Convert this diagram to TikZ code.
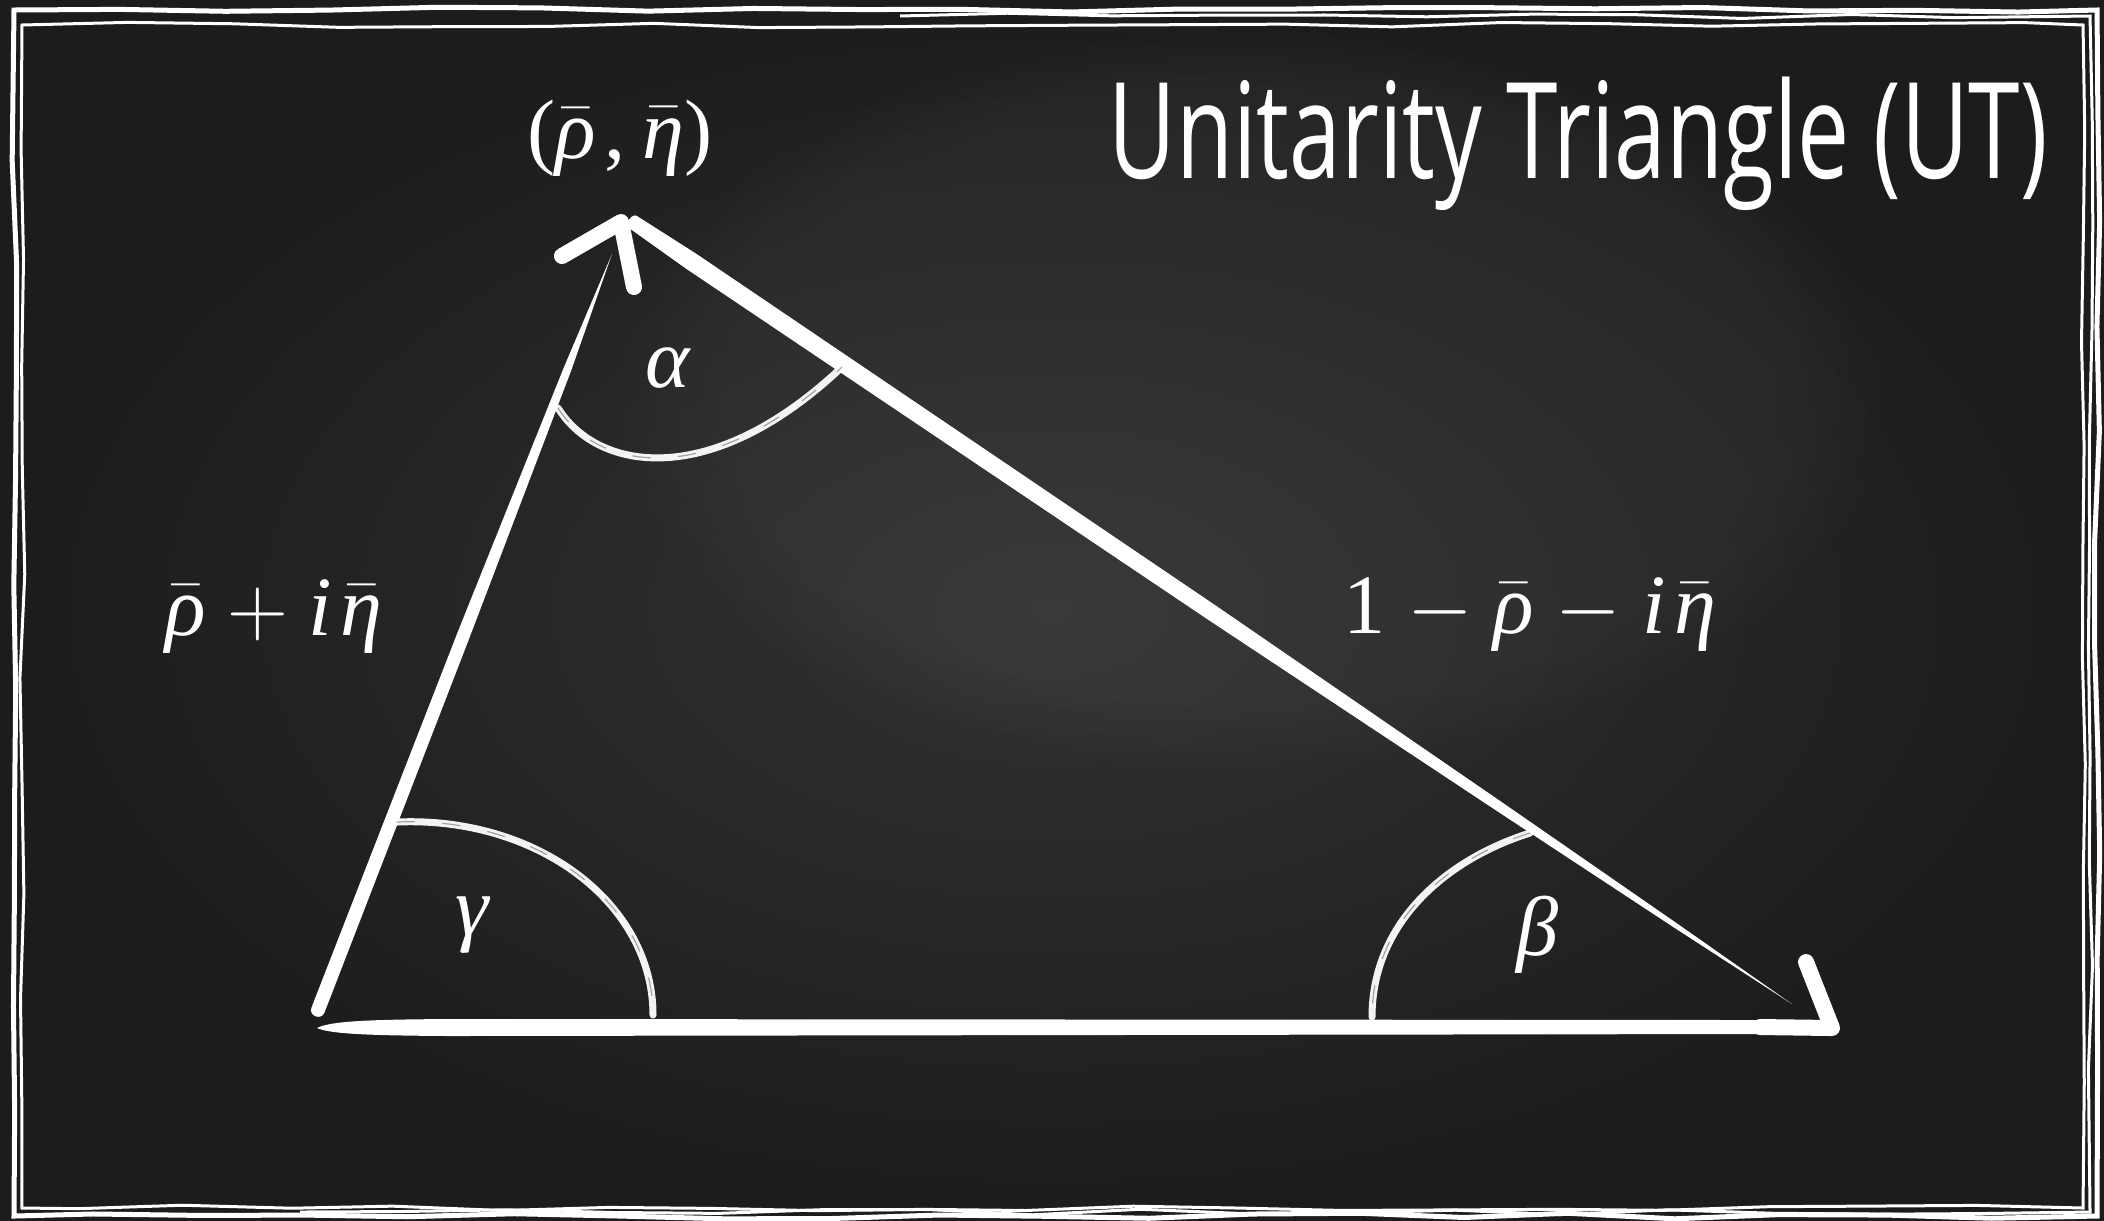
\RequirePackage{fix-cm}
\documentclass[tikz,border=0pt]{standalone}
\usepackage{fontspec}
\newfontfamily\titlefont{Open Sans}
\newfontfamily\tms{Liberation Serif}
\newcommand\gk[1]{\mbox{\tms\itshape #1}}
\newcommand\bgk[1]{$\bar{\mbox{\tms\itshape #1}}$}
\usetikzlibrary{decorations.pathmorphing,fadings}
\definecolor{boardin}{RGB}{50,50,50}
\definecolor{boardout}{RGB}{28,28,28}
\begin{document}
\begin{tikzpicture}[x=0.01cm,y=-0.01cm,
  chalk/.style={fill=white},
  chalkarrow/.style={draw=white,line width=0.16cm,line cap=round,line join=round},
  chalkarc/.style={draw=white,line width=0.07cm,line cap=round,opacity=0.95,
     postaction={draw=black!75,line width=0.012cm,dash pattern=on 5pt off 8pt,opacity=0.45}},
  frameline/.style={draw=white,line width=0.035cm,decorate,
     decoration={random steps,segment length=30pt,amplitude=0.8pt}},
  lbl/.style={text=white,inner sep=0pt,font=\tms\fontsize{24}{28}\selectfont}]
\pgfmathsetseed{7}
% board
\useasboundingbox (0,0) rectangle (2104,1220);
\shade[inner color=boardin,outer color=boardout] (0,0) rectangle (2104,1220);
\fill[white,opacity=0.035,path fading=circle with fuzzy edge 20 percent] (1250,400) ellipse (650 and 380);
% frame
\draw[frameline,line width=0.05cm] (14,10) -- (2097,10) -- (2097,1216) -- (14,1216) -- cycle;
\draw[frameline,line width=0.03cm] (22,25) -- (2083,25) -- (2083,1208) -- (22,1208) -- cycle;
\draw[frameline,line width=0.03cm] (900,16) -- (2090,16) -- (2090,1212) -- (300,1212);
% vertices
\coordinate (A) at (318,1027);
\coordinate (C) at (621,222);
\coordinate (B) at (1832,1028);
% left side (A -> C)
\fill[chalk] (612,254) -- (571.2,370.5) -- (469.6,637.4) -- (324.5,1012.5)
   .. controls (321.2,1020.9) and (308.2,1015.9) .. (311.5,1007.5) -- (457.5,632.6)
   -- (563.8,367.5) -- cycle;
% hypotenuse (C -> B)
\fill[chalk] (637,216) -- (696,253.6) -- (1217,606.4) -- (1505.1,804.4) -- (1677.4,923.7)
   -- (1792,1004) -- (1674.6,927.9) -- (1499.5,812.7) -- (1208,619.6) -- (686,268.6)
   -- (629,228) .. controls (624,224.6) and (632,212.6) .. (637,216) -- cycle;
% bottom side (A -> B)
\fill[chalk] (317,1028) .. controls (330,1021) and (370,1019.5) .. (450,1019) -- (1760,1020)
   -- (1760,1034) -- (450,1036) .. controls (370,1035.5) and (330,1034) .. (317,1028) -- cycle;
% arrowheads
\draw[chalkarrow] (562,256) -- (C) -- (634,287);
\draw[chalkarrow] (1806,962) -- (B) -- (1760,1027);
% angle arcs
\draw[chalkarc] (558,408) .. controls (598,472) and (712,490) .. (842,367);
\draw[chalkarc] (397,822) .. controls (537,816) and (653,903) .. (653,1015);
\draw[chalkarc] (1530,833) .. controls (1450,858) and (1372,920) .. (1372,1017);
% labels
\node[lbl] (apexlbl) at (620,138) {(\bgk{ρ}\hspace{0.1em},\hspace{0.2em}\bgk{η})};
\node[lbl] (alphalbl) at (668,368) {\gk{α}};
\node[lbl] (leftlbl) at (274,617) {\bgk{ρ}\hspace{0.25em}$+$\hspace{0.25em}\gk{i}\hspace{0.1em}\bgk{η}};
\node[lbl] (rightlbl) at (1530,615) {1\hspace{0.25em}$-$\hspace{0.25em}\bgk{ρ}\hspace{0.25em}$-$\hspace{0.25em}\gk{i}\hspace{0.1em}\bgk{η}};
\node[lbl] (gammalbl) at (472,925) {\gk{γ}};
\node[lbl] (betalbl) at (1537,935) {\gk{β}};
% title
\node[anchor=base west,text=white,inner sep=0pt] (title) at (1108,178)
  {\scalebox{0.695}[1]{\titlefont\fontsize{38}{40}\selectfont Unitarity Triangle (UT)}};
\end{tikzpicture}
\end{document}
